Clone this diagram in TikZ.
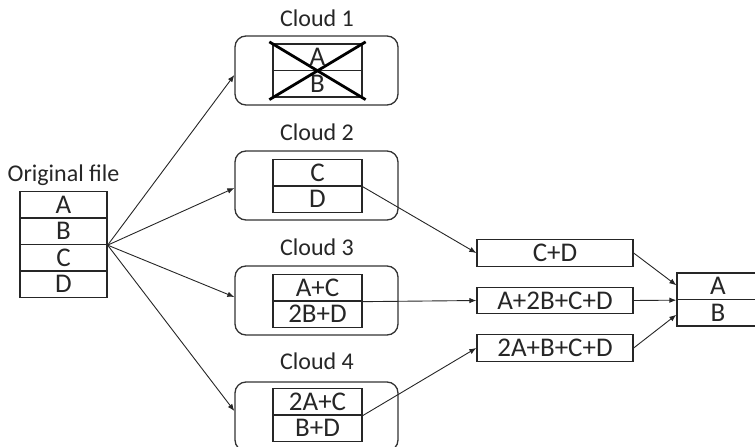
\documentclass[tikz,border=0pt]{standalone}
\usepackage{fontspec}
\setmainfont{Carlito}
\usetikzlibrary{calc,arrows.meta}
\newcommand{\cellfont}{\fontsize{27}{29}\selectfont}
\newcommand{\lblfont}{\fontsize{24}{26}\selectfont}
\tikzset{
	cell/.style={draw=black!85, line width=1.3pt, minimum width=89pt, minimum height=26.5pt, inner sep=0pt, font=\cellfont, text=black!85, text height=17.2pt, text depth=0pt},
	res/.style={cell, minimum width=156pt},
	cloudbox/.style={draw=black!80, line width=1.3pt, rounded corners=11pt, minimum width=163pt, minimum height=69pt},
	lbl/.style={font=\lblfont, text=black!85, anchor=base, inner sep=0pt},
	arr/.style={-{Latex[length=7pt,width=5.5pt]}, draw=black!85, line width=0.9pt}
}

\begin{document}
\begin{tikzpicture}[x=1pt, y=-1pt]
			%%%%% START %%%%%
			\useasboundingbox (0,0) rectangle (755,447);
			
			% original file
			\node[lbl] (tO) at (63.5, 181) {Original file};
			\node[cell, minimum width=87pt] (oA) at (63.5, 204.75) {A};
			\node[cell, minimum width=87pt] (oB) at (63.5, 231.25) {B};
			\node[cell, minimum width=87pt] (oC) at (63.5, 257.75) {C};
			\node[cell, minimum width=87pt] (oD) at (63.5, 284.25) {D};
			
			% clouds
			\node[lbl] (t1) at (317, 26) {Cloud 1};
			\node[cloudbox] (cl1) at (316.5, 70.5) {};
			\node[cell] (c1a) at (317.5, 57.25) {A};
			\node[cell] (c1b) at (317.5, 83.75) {B};
			\draw[line width=2.8pt] ($(c1a.north west)+(-3,-1.5)$) -- ($(c1b.south east)+(3,2)$);
			\draw[line width=2.8pt] ($(c1b.south west)+(-3,2)$) -- ($(c1a.north east)+(3,-1.5)$);
			
			\node[lbl] (t2) at (317, 140) {Cloud 2};
			\node[cloudbox] (cl2) at (316.5, 185.5) {};
			\node[cell] (c2a) at (317.5, 172.75) {C};
			\node[cell] (c2b) at (317.5, 199.25) {D};
			
			\node[lbl] (t3) at (317, 255) {Cloud 3};
			\node[cloudbox] (cl3) at (316.5, 300.5) {};
			\node[cell] (c3a) at (317.5, 287.75) {A+C};
			\node[cell] (c3b) at (317.5, 314.25) {2B+D};
			
			\node[lbl] (t4) at (317, 369) {Cloud 4};
			\node[cloudbox] (cl4) at (316.5, 416.5) {};
			\node[cell] (c4a) at (317.5, 401.75) {2A+C};
			\node[cell] (c4b) at (317.5, 428.25) {B+D};
			
			% combined pieces
			\node[res] (r1) at (555, 253) {C+D};
			\node[res] (r2) at (555, 300.5) {A+2B+C+D};
			\node[res] (r3) at (555, 348) {2A+B+C+D};
			
			% recovered
			\node[cell, minimum width=82pt] (fA) at (718, 286.25) {A};
			\node[cell, minimum width=82pt] (fB) at (718, 312.75) {B};
			
			% arrows
			\draw[arr] (oB.south east) -- ([yshift=-4.5pt]cl1.west);
			\draw[arr] (oB.south east) -- ([yshift=-2.5pt]cl2.west);
			\draw[arr] (oB.south east) -- ([yshift=3.5pt]cl3.west);
			\draw[arr] (oB.south east) -- ([yshift=5.5pt]cl4.west);
			
			\draw[arr] (c2a.south east) -- (r1.west);
			\draw[arr] (c3a.south east) -- (r2.west);
			\draw[arr] (c4a.south east) -- (r3.west);
			
			\draw[arr] (r1.east) -- ([yshift=1pt]fA.west);
			\draw[arr] (r2.east) -- (fA.south west);
			\draw[arr] (r3.east) -- ([yshift=-2pt]fB.west);
			
			%%%%% END %%%%%
\end{tikzpicture}
\end{document}
